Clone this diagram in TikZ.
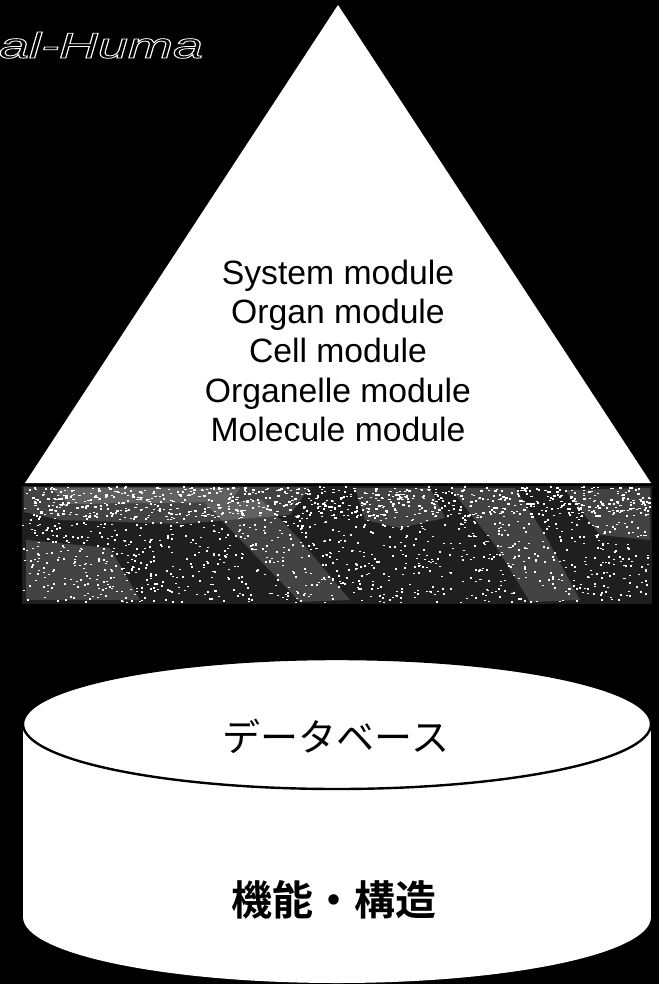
\documentclass[tikz,border=0pt]{standalone}
\usepackage{fontspec}
\usepackage{graphicx}
\setmainfont{Liberation Sans}
\newfontfamily\jpfont{Noto Sans CJK JP}
\newfontfamily\jpboldfont{Noto Sans CJK JP Bold}
\begin{document}
\begin{tikzpicture}[x=1pt,y=-1pt,
  every node/.style={inner sep=0pt,outer sep=0pt},
  modtext/.style={font=\fontsize{33.7}{39}\selectfont,text=black,anchor=base},
  speck/.style={fill=white},
  streak/.style={fill=white,fill opacity=0.16}]
\fill[black] (0,0) rectangle (659,984);
\useasboundingbox (0,0) rectangle (659,984);

% outlined title fragment
\node[anchor=base west,text=white] (vh) at (-1,58)
  {\fontsize{36}{36}\selectfont\itshape\special{pdf:literal direct 1 Tr 0.8 w}\scalebox{1.5}[1]{al-Huma}\special{pdf:literal direct 0 Tr}};

% pyramid
\fill[white] (338,5) coordinate (apex) -- (25,483) coordinate (bl) -- (651,483) coordinate (br) -- cycle;
\node[modtext] (m1) at (338,284) {System module};
\node[modtext] (m2) at (338,323) {Organ module};
\node[modtext] (m3) at (338,362) {Cell module};
\node[modtext] (m4) at (338,402) {Organelle module};
\node[modtext] (m5) at (338,441) {Molecule module};

% noisy band
\fill[black!88] (22,486) rectangle (652,604);
\fill[streak] (24,487) -- (310,487) -- (290,515) -- (180,524) -- (60,520) -- (24,512) -- cycle;
\fill[streak] (50,488) -- (240,488) -- (230,502) -- (70,504) -- cycle;
\fill[streak] (205,503) -- (262,500) -- (300,540) -- (350,600) -- (300,602) -- (255,555) -- cycle;
\fill[streak] (355,488) -- (430,488) -- (445,518) -- (400,528) -- (365,520) -- cycle;
\fill[streak] (450,488) -- (515,488) -- (545,535) -- (580,600) -- (530,602) -- (495,545) -- cycle;
\fill[streak] (565,490) -- (650,488) -- (650,540) -- (600,535) -- cycle;
\fill[streak] (26,540) -- (110,548) -- (140,600) -- (26,600) -- cycle;
\pgfmathsetseed{4242}
\foreach \i in {1,...,1300}{
  \pgfmathsetmacro{\sx}{22+628*rnd}
  \pgfmathsetmacro{\sy}{486+116*rnd}
  \fill[speck] (\sx,\sy) rectangle ++(2,1.5);
}
\foreach \i in {1,...,500}{
  \pgfmathsetmacro{\sx}{24+626*rnd}
  \pgfmathsetmacro{\sy}{487+30*rnd}
  \fill[speck] (\sx,\sy) rectangle ++(2.5,1.5);
}

% database cylinder
\fill[white] (23,724) rectangle (651,917);
\fill[white] (337,917) ellipse [x radius=314, y radius=66];
\draw[black,line width=2.4,fill=white] (337,724) ellipse [x radius=314, y radius=65];
\node[font=\jpfont\fontsize{38}{38}\selectfont,text=black] (db) at (336,736) {データベース};
\node[font=\jpboldfont\fontsize{41}{41}\selectfont,text=black] (fs) at (334,900) {機能・構造};
\end{tikzpicture}
\end{document}
